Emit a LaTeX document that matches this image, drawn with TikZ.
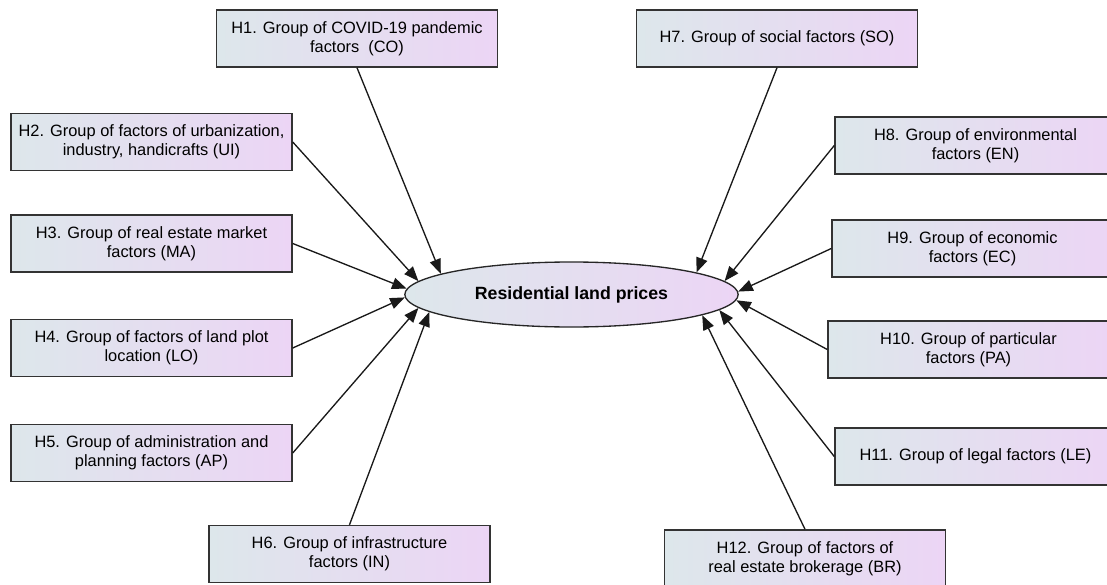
\documentclass[tikz,border=0pt]{standalone}
\usepackage{fontspec}
\setmainfont{Liberation Sans}
\usetikzlibrary{arrows.meta,shapes.geometric}
\definecolor{facleft}{RGB}{221,231,235}
\definecolor{facright}{RGB}{236,213,245}
\begin{document}
\begin{tikzpicture}[x=0.75pt,y=-0.75pt]
  \tikzstyle{factor}=[rectangle, draw=black!80, line width=1.1pt, left color=facleft, right color=facright, minimum width=210.75pt, minimum height=42.75pt, align=center, inner sep=2pt, font=\fontsize{12.3}{14.3}\selectfont]
  \tikzstyle{target}=[ellipse, draw=black!85, line width=1pt, left color=facleft, right color=facright, minimum width=250pt, minimum height=48.75pt, inner sep=0pt, font=\fontsize{13.3}{16}\selectfont\bfseries]
  \tikzstyle{link}=[-{Triangle[length=11pt,width=8.5pt]}, line width=1pt, black!90]
  \useasboundingbox (0,0) rectangle (1107,585);

  % Node definitions
  \node[target] (res) at (571.5,294.5) {Residential land prices};
  \node[factor] (h1) at (357,38.5) {H1. Group of COVID-19 pandemic\\factors\ \ (CO)};
  \node[factor] (h2) at (151.5,142) {H2. Group of factors of urbanization,\\industry, handicrafts (UI)};
  \node[factor] (h3) at (151.5,243.5) {H3. Group of real estate market\\factors (MA)};
  \node[factor] (h4) at (151.5,348) {H4. Group of factors of land plot\\location (LO)};
  \node[factor] (h5) at (151.5,453) {H5. Group of administration and\\planning factors (AP)};
  \node[factor] (h6) at (349.5,554) {H6. Group of infrastructure\\factors (IN)};
  \node[factor] (h7) at (777,38.5) {H7. Group of social factors (SO)};
  \node[factor] (h8) at (975.5,145.5) {H8. Group of environmental\\factors (EN)};
  \node[factor] (h9) at (972.5,248.5) {H9. Group of economic\\factors (EC)};
  \node[factor] (h10) at (968.5,349.5) {H10. Group of particular\\factors (PA)};
  \node[factor] (h11) at (975.5,456.5) {H11. Group of legal factors (LE)};
  \node[factor] (h12) at (805,558.5) {H12. Group of factors of\\real estate brokerage (BR)};

  % Edge definitions
  \draw[link] (h1.south) -- (res.171.5);
  \draw[link] (h2.east) -- (res.175.5);
  \draw[link] (h3.east) -- (res.178.4);
  \draw[link] (h4.east) -- (res.181.9);
  \draw[link] (h5.east) -- (res.185.5);
  \draw[link] (h6.north) -- (res.187.3);
  \draw[link] (h7.south) -- (res.10.6);
  \draw[link] (h8.west) -- (res.5.1);
  \draw[link] (h9.west) -- (res.1.5);
  \draw[link] (h10.west) -- (res.358.8);
  \draw[link] (h11.west) -- (res.354.5);
  \draw[link] (h12.north) -- (res.351.5);
\end{tikzpicture}
\end{document}
